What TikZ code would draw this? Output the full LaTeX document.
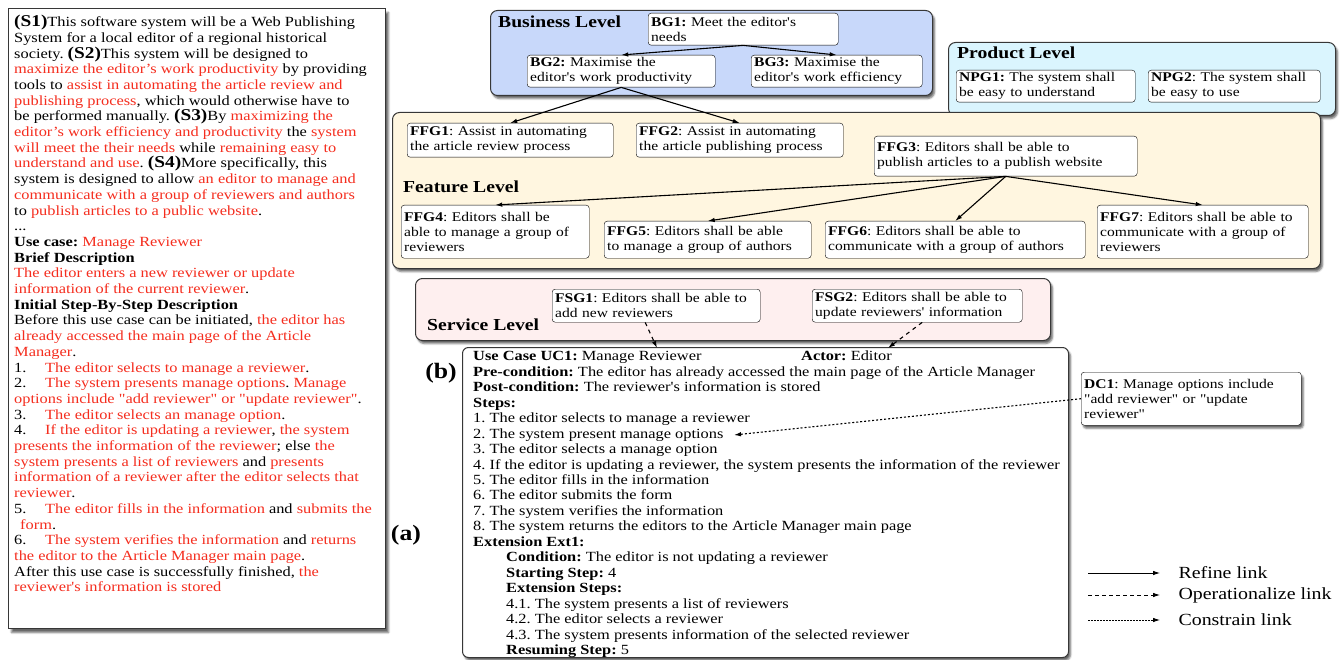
\documentclass[tikz,border=0pt]{standalone}
\usepackage{fontspec}
\setmainfont{Liberation Serif}[FakeStretch=1.17, Ligatures=TeXOff]
\usetikzlibrary{arrows.meta, shadows.blur, calc}
\definecolor{doc-red}{RGB}{245,45,30}
\definecolor{bus-blue}{RGB}{200,216,250}
\definecolor{prod-cyan}{RGB}{218,245,254}
\definecolor{feat-cream}{RGB}{255,246,224}
\definecolor{serv-pink}{RGB}{254,239,239}
\definecolor{frame-gray}{RGB}{55,55,55}
\newcommand{\rd}[1]{\textcolor{doc-red}{#1}}
\newcommand{\sno}[1]{{\fontsize{16.5}{15.5}\selectfont\bfseries #1}}
\newcommand{\itm}[1]{\makebox[31pt][l]{#1}}

\begin{document}
\frenchspacing
\begin{tikzpicture}[
  x=1pt, y=-1pt,
  >={Latex[length=7pt,width=4.5pt]},
  level/.style={draw=frame-gray, line width=1pt, rounded corners=7pt,
                anchor=north west, inner sep=0pt,
                blur shadow={shadow xshift=2pt, shadow yshift=-3pt, shadow opacity=60}},
  goal/.style={draw, fill=white, rounded corners=3pt, align=left,
               anchor=north west, inner xsep=3pt, inner ysep=1pt,
               font=\fontsize{13.3}{14.8}\selectfont},
  title/.style={anchor=west, inner sep=0pt, font=\fontsize{16.8}{18}\selectfont\bfseries},
  refine/.style={->, line width=1.1pt},
  oplink/.style={->, line width=1.1pt, dash pattern=on 4pt off 4pt},
  conlink/.style={->, line width=1.1pt, dash pattern=on 2pt off 2pt},
]
\useasboundingbox (0,0) rectangle (1340,660);

% (a) the requirements document
\node[draw=frame-gray, line width=1pt, fill=white, anchor=north west, inner sep=0pt,
      minimum width=377, minimum height=620,
      blur shadow={shadow xshift=3pt, shadow yshift=-4pt, shadow opacity=60}] (doc) at (8,8) {};
\node[anchor=north west, inner sep=0pt, align=left,
      font=\fontsize{14}{15.7}\selectfont] (doctext) at (14,15) {%
\sno{(S1)}This software system will be a Web Publishing\\
System for a local editor of a regional historical\\
society. \sno{(S2)}This system will be designed to\\
\rd{maximize the editor’s work productivity} by providing\\
tools to \rd{assist in automating the article review and}\\
\rd{publishing process}, which would otherwise have to\\
be performed manually. \sno{(S3)}By \rd{maximizing the}\\
\rd{editor’s work efficiency and productivity} the \rd{system}\\
\rd{will meet the their needs} while \rd{remaining easy to}\\
\rd{understand and use}. \sno{(S4)}More specifically, this\\
system is designed to allow \rd{an editor to manage and}\\
\rd{communicate with a group of reviewers and authors}\\
to \rd{publish articles to a public website}.\\
...\\
\textbf{Use case:} \rd{Manage Reviewer}\\
\textbf{Brief Description}\\
\rd{The editor enters a new reviewer or update}\\
\rd{information of the current reviewer}.\\
\textbf{Initial Step-By-Step Description}\\
Before this use case can be initiated, \rd{the editor has}\\
\rd{already accessed the main page of the Article}\\
\rd{Manager}.\\
\itm{1.}\rd{The editor selects to manage a reviewer}.\\
\itm{2.}\rd{The system presents manage options}. \rd{Manage}\\
\rd{options include "add reviewer" or "update reviewer"}.\\
\itm{3.}\rd{The editor selects an manage option}.\\
\itm{4.}\rd{If the editor is updating a reviewer}, \rd{the system}\\
\rd{presents the information of the reviewer}; else \rd{the}\\
\rd{system presents a list of reviewers} and \rd{presents}\\
\rd{information of a reviewer after the editor selects that}\\
\rd{reviewer}.\\
\itm{5.}\rd{The editor fills in the information} and \rd{submits the}\\
\hspace*{6pt}\rd{form}.\\
\itm{6.}\rd{The system verifies the information} and \rd{returns}\\
\rd{the editor to the Article Manager main page}.\\
After this use case is successfully finished, \rd{the}\\
\rd{reviewer's information is stored}};

% level containers
\node[level, fill=bus-blue,   minimum width=442, minimum height=85]  (busl)  at (490,10)  {};
\node[level, fill=prod-cyan,  minimum width=387, minimum height=73]  (prodl) at (948,42)  {};
\node[level, fill=feat-cream, minimum width=928, minimum height=156] (featl) at (392,112) {};
\node[level, fill=serv-pink,  minimum width=635, minimum height=62]  (servl) at (415,278) {};
\node[title] (bust)  at (498,22)  {Business Level};
\node[title] (prodt) at (957,53)  {Product Level};
\node[title] (featt) at (403,187) {Feature Level};
\node[title] (servt) at (427,325) {Service Level};

% goals
\node[goal, text width=184, minimum height=32] (bg1) at (648,13)
  {\textbf{BG1:} Meet the editor's\\needs};
\node[goal, text width=182, minimum height=32] (bg2) at (527,55)
  {\textbf{BG2:} Maximise the\\editor's work productivity};
\node[goal, text width=165, minimum height=32] (bg3) at (751,55)
  {\textbf{BG3:} Maximise the\\editor's work efficiency};
\node[goal, text width=173, minimum height=32] (npg1) at (956,70)
  {\textbf{NPG1:} The system shall\\be easy to understand};
\node[goal, text width=166, minimum height=32] (npg2) at (1148,70)
  {\textbf{NPG2}: The system shall\\be easy to use};
\node[goal, text width=200, minimum height=34] (ffg1) at (407,123)
  {\textbf{FFG1}: Assist in automating\\the article review process};
\node[goal, text width=201, minimum height=34] (ffg2) at (636,123)
  {\textbf{FFG2}: Assist in automating\\the article publishing process};
\node[goal, text width=257, minimum height=40] (ffg3) at (874,136)
  {\textbf{FFG3}: Editors shall be able to\\publish articles to a publish website};
\node[goal, text width=182, minimum height=53] (ffg4) at (401,205)
  {\textbf{FFG4}: Editors shall be\\able to manage a group of\\reviewers};
\node[goal, text width=201, minimum height=37] (ffg5) at (604,221)
  {\textbf{FFG5}: Editors shall be able\\to manage a group of authors};
\node[goal, text width=254, minimum height=37] (ffg6) at (825,221)
  {\textbf{FFG6}: Editors shall be able to\\communicate with a group of authors};
\node[goal, text width=205, minimum height=53] (ffg7) at (1097,205)
  {\textbf{FFG7}: Editors shall be able to\\communicate with a group of\\reviewers};
\node[goal, text width=202, minimum height=33] (fsg1) at (552,289)
  {\textbf{FSG1}: Editors shall be able to\\add new reviewers};
\node[goal, text width=204, minimum height=33] (fsg2) at (812,289)
  {\textbf{FSG2}: Editors shall be able to\\update reviewers' information};

% (b) use case
\node[draw=frame-gray, line width=1pt, fill=white, rounded corners=6pt,
      anchor=north west, inner sep=0pt, minimum width=606, minimum height=310,
      blur shadow={shadow xshift=2pt, shadow yshift=-3pt, shadow opacity=60}] (uc) at (462,347) {};
\node[anchor=north west, inner sep=0pt, align=left,
      font=\fontsize{14}{15.45}\selectfont] (uctext) at (473,351) {%
\makebox[328pt][l]{\textbf{Use Case UC1:} Manage Reviewer}\textbf{Actor:} Editor\\
\textbf{Pre-condition:} The editor has already accessed the main page of the Article Manager\\
\textbf{Post-condition:} The reviewer's information is stored\\
\textbf{Steps:}\\
1. The editor selects to manage a reviewer\\
2. The system present manage options\\
3. The editor selects a manage option\\
4. If the editor is updating a reviewer, the system presents the information of the reviewer\\
5. The editor fills in the information\\
6. The editor submits the form\\
7. The system verifies the information\\
8. The system returns the editors to the Article Manager main page\\
\textbf{Extension Ext1:}\\
\hspace*{33pt}\textbf{Condition:} The editor is not updating a reviewer\\
\hspace*{33pt}\textbf{Starting Step:} 4\\
\hspace*{33pt}\textbf{Extension Steps:}\\
\hspace*{33pt}4.1. The system presents a list of reviewers\\
\hspace*{33pt}4.2. The editor selects a reviewer\\
\hspace*{33pt}4.3. The system presents information of the selected reviewer\\
\hspace*{33pt}\textbf{Resuming Step:} 5};
\node[goal, text width=214, minimum height=53,
      blur shadow={shadow xshift=2pt, shadow yshift=-3pt, shadow opacity=60}] (dc1) at (1081,372)
  {\textbf{DC1}: Manage options include\\"add reviewer" or "update\\reviewer"};

\node[font=\fontsize{22}{22}\selectfont\bfseries, inner sep=0pt] (lblb) at (441,373) {(b)};
\node[font=\fontsize{22}{22}\selectfont\bfseries, inner sep=0pt] (lbla) at (406,535) {(a)};

% links
\foreach \a/\b in {bg1/bg2, bg1/bg3, bg2/ffg1, bg2/ffg2,
                   ffg3/ffg4, ffg3/ffg5, ffg3/ffg6, ffg3/ffg7}
  \draw[refine] (\a.south) -- (\b.north);
\coordinate (ucA) at (657,348);
\coordinate (ucB) at (888,348);
\coordinate (opt) at (734,435);
\draw[oplink] ([xshift=-11pt]fsg1.south) -- (ucA);
\draw[oplink] ([xshift=5pt]fsg2.south) -- (ucB);
\draw[conlink] (dc1.west) -- (opt);

% legend
\coordinate (r0) at (1088,573); \coordinate (r1) at (1160,573);
\coordinate (o0) at (1088,595); \coordinate (o1) at (1160,595);
\coordinate (c0) at (1088,620); \coordinate (c1) at (1160,620);
\draw[->, line width=0.8pt] (r0) -- (r1);
\draw[->, line width=0.8pt, dash pattern=on 4pt off 3pt] (o0) -- (o1);
\draw[->, line width=0.8pt, dash pattern=on 1.5pt off 1.5pt] (c0) -- (c1);
\node[anchor=west, font=\fontsize{17}{17}\selectfont] (rl) at (1175,573) {Refine link};
\node[anchor=west, font=\fontsize{17}{17}\selectfont] (ol) at (1175,595) {Operationalize link};
\node[anchor=west, font=\fontsize{17}{17}\selectfont] (cl) at (1175,620) {Constrain link};
\end{tikzpicture}
\end{document}
